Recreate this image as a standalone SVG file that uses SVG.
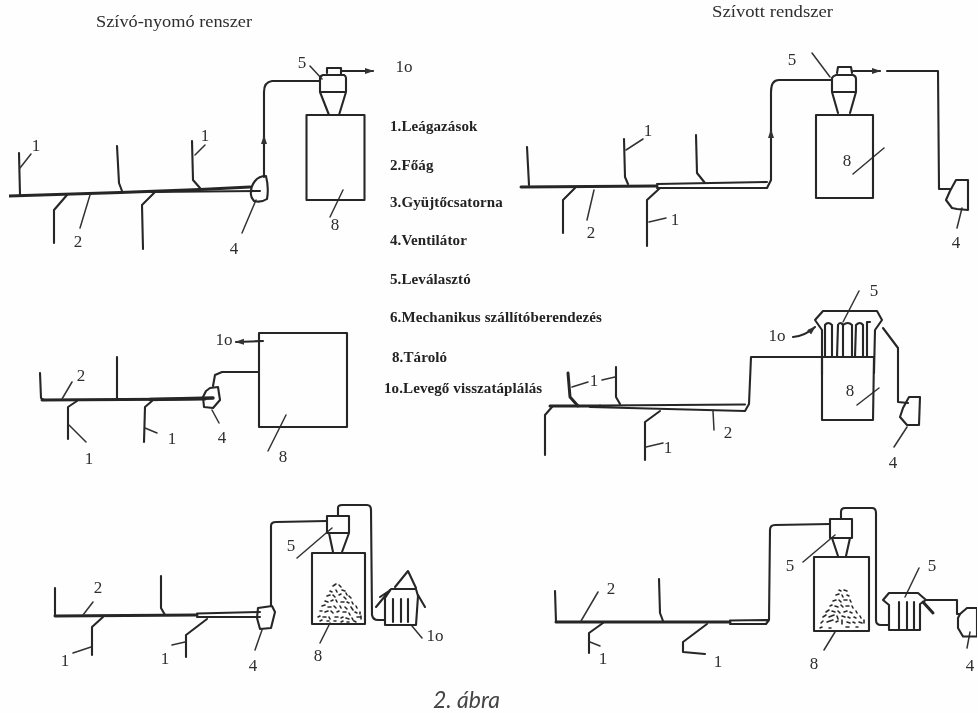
<svg xmlns="http://www.w3.org/2000/svg" width="978" height="713" viewBox="0 0 978 713">
<defs>
<style>
.p{fill:none;stroke:#262626;stroke-width:2.1;stroke-linejoin:round;stroke-linecap:round}
.h{stroke-width:3}
.t{fill:none;stroke:#333;stroke-width:1.5;stroke-linecap:round}
.n{font-family:"Liberation Serif",serif;font-size:17px;fill:#2e2e2e;text-anchor:middle}
.ti{font-family:"Liberation Serif",serif;font-size:16px;fill:#2e2e2e}
.l{font-family:"Liberation Serif",serif;font-size:15px;font-weight:bold;fill:#222;letter-spacing:.1px}
.c{font-family:"Lato",sans-serif;font-style:italic;font-size:23px;fill:#444}
.pile{fill:none;stroke:#2b2b2b;stroke-width:1.6;stroke-linecap:round}
</style>
<marker id="a" markerWidth="10" markerHeight="8" refX="8" refY="3" orient="auto" markerUnits="userSpaceOnUse"><path d="M0 0L9 3L0 6Z" fill="#333"/></marker>
<filter id="b" x="0" y="0" width="100%" height="100%"><feGaussianBlur stdDeviation="0.45"/></filter>
</defs>
<rect width="978" height="713" fill="#fefefe"/>
<g filter="url(#b)">
<g id="connectors">
<path class="p h" d="M9 196L120 192.500L200 189.500L250 187"/>
<path class="p" d="M150 192L258 191"/>
<path class="p" d="M19 153L20 195M117 146L119 183L122 191M192 141L193 180L200 188M54 243L54 210L67 195M143 249L142 205L155 192"/>
<path class="p" d="M264 177L264 92Q264 82 272 81L320 81"/>
<path class="p" d="M264 145L264 136" marker-end="url(#a)"/>
<path class="p" d="M341 71L373 71" marker-end="url(#a)"/>
<path class="t" d="M20 168L31 154M195 155L205 145M80 228L90 195M242 233L256 200M310 66L322 79M330 217L343 190"/>
<path class="p h" d="M521 187L657 186"/>
<path class="p" d="M657 184L767 182M657 188L767 188L771 180L771 92Q771 80 779 80L832 80"/>
<path class="p" d="M527 147L529 185M624 139L625 177L628 184M696 135L697 173L705 183M563 233L563 200L575 188M647 246L647 200L660 188"/>
<path class="p" d="M771 136L771 130" marker-end="url(#a)"/>
<path class="p" d="M853 71L880 71" marker-end="url(#a)"/>
<path class="p" d="M887 71L938 71L939 189L950 189"/>
<path class="t" d="M626 150L643 139M649 222L666 218M594 190L587 220M812 53L830 77M853 174L884 148M962 208L957 228"/>
<path class="p h" d="M42 400L205 399"/>
<path class="p h" d="M150 399.500L213 398" style="stroke-width:3.400"/>
<path class="p" d="M40 373L41 398L44 400M117 357L117 400M68 439L68 407L77 401M144 442L145 407L152 401"/>
<path class="p" d="M213 386L215 375L222 372L259 372"/>
<path class="p" d="M263 341L236 342" marker-end="url(#a)"/>
<path class="t" d="M62 399L72 382M69 425L86 442M145 428L157 433M212 410L219 423M268 451L286 415"/>
<path class="p h" d="M550 406L600 406"/>
<path class="p" d="M600 405.500L745 404.500M590 407L745 411L749 404L751 357L822 357"/>
<path class="p" d="M545 455L545 415L552 407M616 367L616 397L620 404M645 460L645 422L660 411"/>
<path class="p h" d="M568 373L570 397L578 406"/>
<path class="p" d="M883 328L898 348L898 402L908 403"/>
<path class="p" d="M793 337Q805 336 815 327" marker-end="url(#a)"/>
<path class="t" d="M572 387L588 382M602 380L615 377M646 447L663 443M713 411L714 430M857 405L879 388M859 291L843 322M907 427L894 447"/>
<path class="p h" d="M55 616L197 615"/>
<path class="p" d="M197 613.500L260 612M197 617L260 617"/>
<path class="p" d="M55 588L55 616M161 576L161 608L165 615M92 655L92 627L103 617M186 657L186 635L207 619"/>
<path class="p" d="M271 606L271 526Q271 522 276 522L327 521"/>
<path class="p" d="M338 515L338 508Q338 505 342 505L367 505Q371 505 371 510L372 615Q373 620 378 620L385 620"/>
<path class="t" d="M83 615L93 602M73 653L91 647M172 645L185 642M255 650L262 630M297 558L332 528M320 643L330 623M412 626L422 638"/>
<path class="p h" d="M556 622L730 622"/>
<path class="p" d="M730 620.500L768 620M730 624L766 624L769 620L770 530Q770 525 775 525L830 524"/>
<path class="p" d="M555 591L556 622M659 579L660 613L663 621M589 653L589 633L603 623M707 624L683 642L683 652L705 654"/>
<path class="p" d="M841 519L841 512Q841 508 845 508L872 508Q876 508 876 513L876 620Q876 625 881 625L888 625"/>
<path class="p" d="M926 600L957 600L957 614L960 614"/>
<path class="t" d="M581 621L598 592M590 642L600 646M803 562L835 535M824 650L835 632M905 597L919 568M967 648L970 632"/>
<path class="p h" d="M923 602L933 613"/>
</g>
<g id="d1-fan"><path class="p" d="M255 181Q259 176 266 176Q269 188 267 199Q261 203 254 201Q250 196 251 192Q251 186 255 181Z"/><path class="p" d="M252 191L260 191"/></g>
<g id="d1-separator"><path class="p" d="M327 73L327 68L341 68L341 74M320 78Q320 76 323 75L344 75Q346 76 346 78L346 92L320 92ZM320 92L329 115M346 92L339 115"/></g>
<g id="d1-storage"><rect class="p" x="306.500" y="115" width="58" height="85"/></g>
<g id="d2-separator"><path class="p" d="M837 73L838 67L851 67L852 73M832 78Q833 76 836 75L853 75Q856 76 856 79L856 92L832 92ZM832 92L838 113M856 92L850 113"/></g>
<g id="d2-storage"><rect class="p" x="816" y="115" width="57" height="83"/></g>
<g id="d2-fan"><path class="p" d="M956 180L968 180L968 210L957 209L952 208L946 200L950 191L956 180Z"/></g>
<g id="d3-fan"><path class="p" d="M210 388L218 387L220 400L213 408L204 407L203 397L206 391Z"/></g>
<g id="d3-storage"><rect class="p" x="259" y="333" width="88" height="94"/></g>
<g id="d4-storage"><path class="p" d="M822 357L822 420L873 420L874 357"/></g>
<g id="d4-filter"><path class="p" d="M822 330L815 320L823 311L877 311L882 320L875 330L874 373M822 330L822 375M822 357L874 357"/><path class="p" d="M825 357L825 325Q828 321 832 325L832 357M837 357L838 325Q840 321 843 325L843 357M843 325Q848 321 852 325L852 357M855 357L856 325Q860 321 863 325L863 357M867 357L867 322L870 322"/></g>
<g id="d4-fan"><path class="p" d="M909 397L920 397L919 425L907 425L900 417L903 408Z"/></g>
<g id="d5-fan"><path class="p" d="M258 608L272 606L275 612L271 628L260 629L257 618Z"/></g>
<g id="d5-separator"><path class="p" d="M327 516L349 516L349 533L327 533ZM329 533L333 552M349 533L342 552"/></g>
<g id="d5-storage"><rect class="p" x="312" y="553" width="53" height="71"/>
<path class="pile" d="M333 586l3-2M339 585l2 2M330 591l2 1M336 590l1 2M342 590l3 1M346 593l1 2M327 596l3-1M333 595l2 2M339 595l2-1M344 597l2 2M349 596l2 2M325 601l3 1M331 601l2-1M336 600l1 2M341 602l3 0M347 602l2 1M352 602l1 2M322 606l3-1M328 607l3 0M334 606l2 2M340 606l1 2M345 607l2 2M351 607l2 3M356 606l1 2M320 611l2 0M325 612l3-1M331 611l2 2M337 612l2-1M343 612l3 0M349 613l1 2M355 612l2 1M360 612l0 2M318 617l2-1M323 617l3 0M329 617l1 2M335 617l3 0M341 618l2-1M346 618l3 1M352 618l1 2M357 617l3 0M361 616l0 3M320 621l2-1M327 621l2 0M334 621l2 0M341 622l2-1M347 622l2 0M354 621l2 1"/></g>
<g id="d5-filter"><path class="p" d="M385 598L391 589L416 589L418 596L416 625L385 625L385 598ZM393 599L393 622M401 599L401 622M408 599L408 622M395 587L408 571L416 588"/><path class="p" d="M390 590L376 607M418 595L425 607M380 597L389 591"/></g>
<g id="d6-separator"><path class="p" d="M830 519L852 519L852 538L830 538ZM832 538L838 556M850 538L846 556"/></g>
<g id="d6-storage"><rect class="p" x="814" y="557" width="55" height="74"/>
<path class="pile" d="M839 590l2 1M844 590l3 1M836 595l3-1M842 595l1 2M847 595l2 1M833 601l3-1M839 600l2 2M844 600l3 0M850 600l1 2M830 606l2-1M835 606l3 1M841 605l2 2M846 606l3 0M852 606l1 2M826 612l3-2M832 611l3 1M838 611l2 2M844 612l3-1M850 612l2 1M856 611l1 2M823 617l3-2M829 617l5-2M837 616l1 3M842 616l3 1M848 617l2 1M854 617l2 1M860 616l1 2M821 623l2-2M827 622l6-2M836 622l2-1M842 620l0 4M847 622l3 1M853 622l2 1M859 622l3 1M864 620l0 3M820 628l2-1M829 628l2 0M846 627l3 0M856 627l2 0"/></g>
<g id="d6-filter"><path class="p" d="M883 600L889 593L918 593L926 600L920 604L920 630L889 630L889 605L883 600ZM899 602L899 629M907 602L907 629M914 602L914 629"/></g>
<g id="d6-fan"><path class="p" d="M960 614L967 608L977 608L977 636.500L963 636.500L958 628L958 618Z"/></g>
<g id="labels">
<text class="ti" x="96" y="27" textLength="156" lengthAdjust="spacingAndGlyphs">Szívó-nyomó renszer</text>
<text class="ti" x="712" y="17" textLength="121" lengthAdjust="spacingAndGlyphs">Szívott rendszer</text>
<text class="l" x="390" y="131">1.Leágazások</text>
<text class="l" x="390" y="170">2.Főág</text>
<text class="l" x="390" y="207">3.Gyüjtőcsatorna</text>
<text class="l" x="390" y="245">4.Ventilátor</text>
<text class="l" x="390" y="284">5.Leválasztó</text>
<text class="l" x="390" y="322">6.Mechanikus szállítóberendezés</text>
<text class="l" x="392" y="362">8.Tároló</text>
<text class="l" x="384" y="393">1o.Levegő visszatáplálás</text>
<text class="n" x="36" y="151">1</text><text class="n" x="205" y="141">1</text><text class="n" x="78" y="247">2</text><text class="n" x="234" y="254">4</text><text class="n" x="302" y="68">5</text><text class="n" x="335" y="230">8</text><text class="n" x="404" y="72">1o</text>
<text class="n" x="648" y="136">1</text><text class="n" x="675" y="225">1</text><text class="n" x="591" y="238">2</text><text class="n" x="792" y="65">5</text><text class="n" x="847" y="166">8</text><text class="n" x="956" y="248">4</text>
<text class="n" x="81" y="381">2</text><text class="n" x="89" y="464">1</text><text class="n" x="172" y="444">1</text><text class="n" x="222" y="443">4</text><text class="n" x="283" y="462">8</text><text class="n" x="224" y="345">1o</text>
<text class="n" x="594" y="386">1</text><text class="n" x="668" y="453">1</text><text class="n" x="728" y="438">2</text><text class="n" x="777" y="341">1o</text><text class="n" x="850" y="396">8</text><text class="n" x="893" y="468">4</text><text class="n" x="874" y="296">5</text>
<text class="n" x="98" y="593">2</text><text class="n" x="65" y="666">1</text><text class="n" x="165" y="664">1</text><text class="n" x="253" y="671">4</text><text class="n" x="291" y="551">5</text><text class="n" x="318" y="661">8</text><text class="n" x="435" y="641">1o</text>
<text class="n" x="611" y="594">2</text><text class="n" x="603" y="664">1</text><text class="n" x="718" y="667">1</text><text class="n" x="790" y="571">5</text><text class="n" x="814" y="669">8</text><text class="n" x="932" y="571">5</text><text class="n" x="970" y="671">4</text>
<text class="c" x="433" y="708">2. ábra</text>
</g>
</g>
</svg>
